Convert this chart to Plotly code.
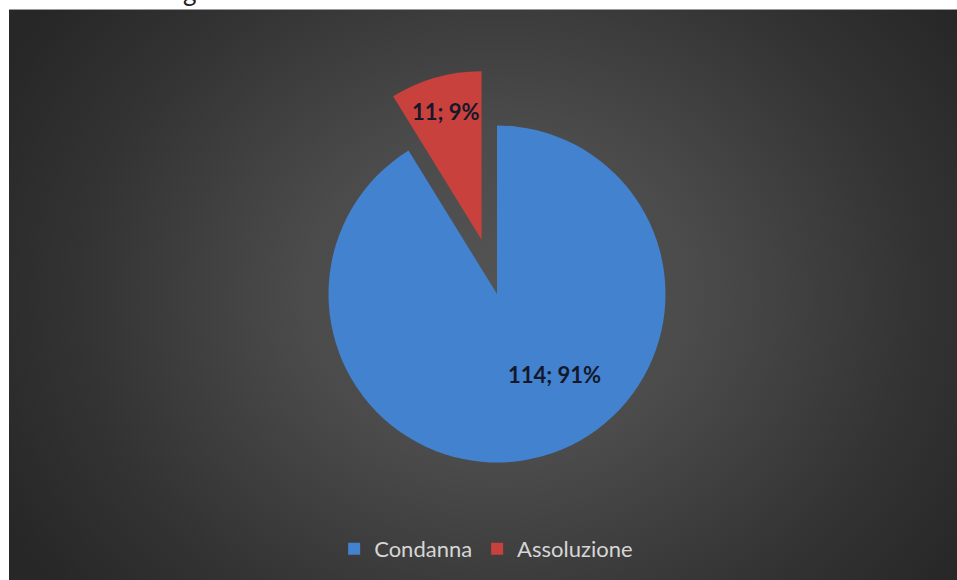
import base64
import plotly.graph_objects as go

# ---- data ----
labels = ["Condanna", "Assoluzione"]
values = [114, 11]
colors = ["#4282ce", "#c9413d"]
pulls = [0, 0.335]

W, H = 957, 580
PX0, PY0 = 9, 10  # dark panel top-left

pw, ph = W - PX0, H - PY0
svg = f'''<svg xmlns="http://www.w3.org/2000/svg" width="{pw}" height="{ph}" viewBox="0 0 {pw} {ph}">
<defs><radialGradient id="g" gradientUnits="userSpaceOnUse" cx="490" cy="285" r="560"
 gradientTransform="translate(490 285) scale(1 0.85) translate(-490 -285)">
<stop offset="0" stop-color="#545454"/>
<stop offset="0.35" stop-color="#4b4b4b"/>
<stop offset="0.75" stop-color="#333333"/>
<stop offset="1" stop-color="#272727"/>
</radialGradient></defs>
<rect x="0" y="0" width="{pw}" height="{ph}" fill="url(#g)"/>
</svg>'''
bg_uri = "data:image/svg+xml;base64," + base64.b64encode(svg.encode()).decode()

# pie geometry (pixels)
cx, cy, R = 497, 294, 168.5
half = R * (1 + max(pulls))
dom_x = [(cx - half) / W, (cx + half) / W]
dom_y = [1 - (cy + half) / H, 1 - (cy - half) / H]

total = sum(values)
fig = go.Figure(go.Pie(
    labels=labels, values=values, sort=False, direction="clockwise", rotation=0,
    pull=pulls, marker=dict(colors=colors, line=dict(width=0)),
    textinfo="none", hoverinfo="label+value+percent",
    domain=dict(x=dom_x, y=dom_y),
))

# data labels
label_pos = [(554, 374), (446, 112)]
anns = []
for v, (lx, ly) in zip(values, label_pos):
    anns.append(dict(
        text=f"<b>{v}; {round(100 * v / total)}%</b>",
        x=lx / W, y=1 - ly / H, xref="paper", yref="paper",
        xanchor="center", yanchor="middle", showarrow=False,
        font=dict(family="Lato, 'Open Sans', sans-serif", size=22, color="#14182a"),
    ))
# cut-off title remnant at the top
anns.append(dict(text="g", x=190 / W, y=1 - 8.5 / H, xref="paper", yref="paper",
                 xanchor="center", yanchor="bottom", showarrow=False,
                 font=dict(family="Lato, sans-serif", size=26, color="#222222")))

fig.update_layout(
    width=W, height=H,
    margin=dict(l=0, r=0, t=0, b=0),
    paper_bgcolor="white", plot_bgcolor="white",
    images=[dict(source=bg_uri, xref="paper", yref="paper", x=PX0 / W, y=1 - PY0 / H,
                 sizex=1 - PX0 / W, sizey=1 - PY0 / H, xanchor="left", yanchor="top",
                 sizing="stretch", layer="below")],
    shapes=[dict(type="line", xref="paper", yref="paper", x0=PX0 / W, x1=1,
                 y0=1 - (PY0 - 0.5) / H, y1=1 - (PY0 - 0.5) / H,
                 line=dict(color="#9a9a9a", width=1))],
    annotations=anns,
    showlegend=True,
    legend=dict(orientation="h", x=0.508, xanchor="center", y=1 - 549 / H, yanchor="middle",
                font=dict(family="Lato, sans-serif", size=22, color="#d6d6d6"),
                bgcolor="rgba(0,0,0,0)", itemwidth=30),
)

fig.write_html("out.html")
